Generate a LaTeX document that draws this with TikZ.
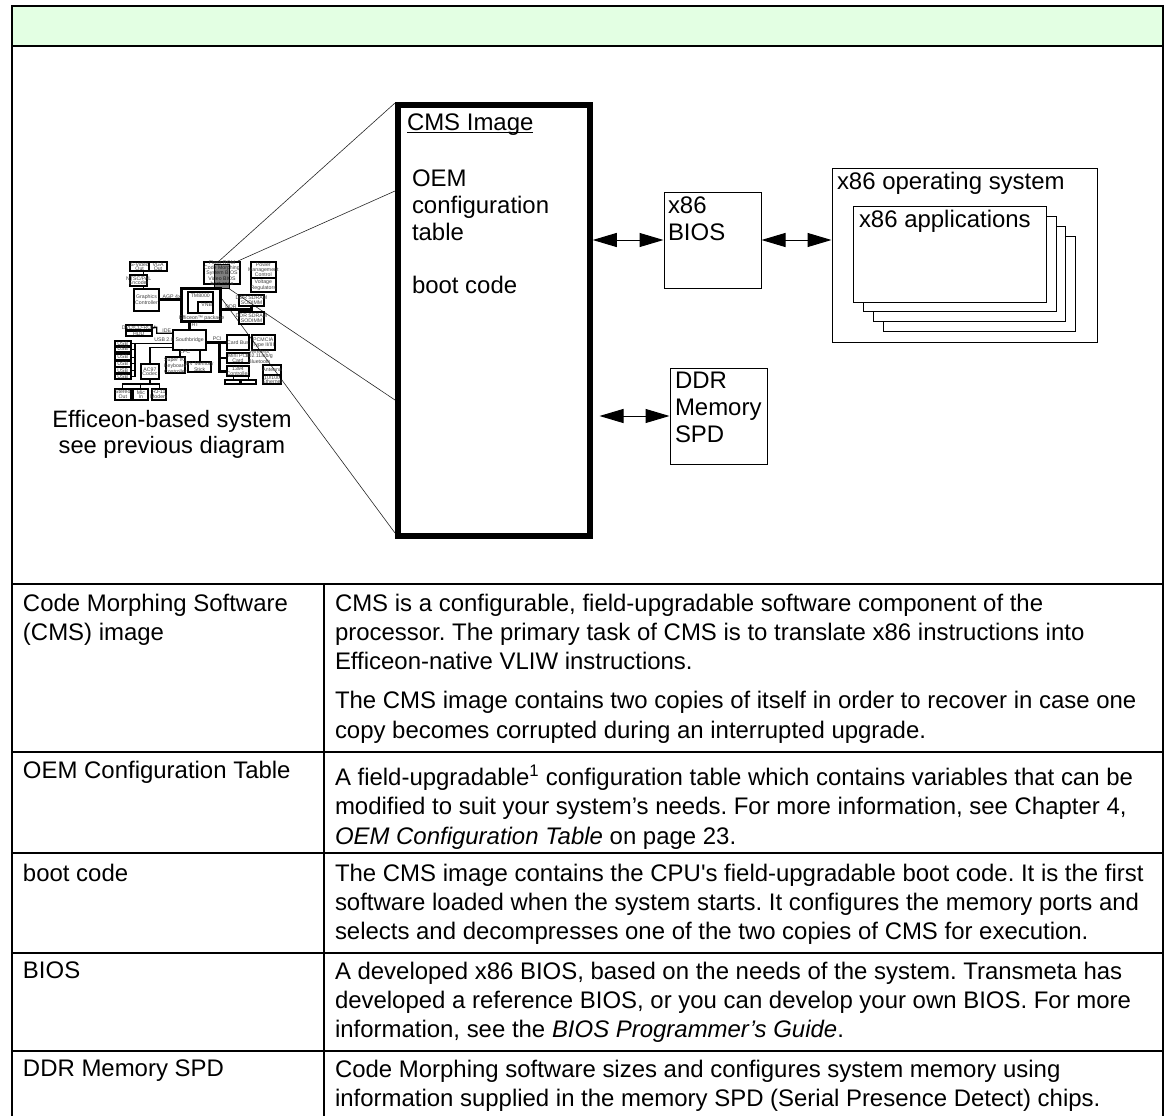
\documentclass[tikz,border=0pt]{standalone}
\usepackage{fontspec}
\setmainfont{Liberation Sans}
\newfontfamily\plainface{Liberation Sans}
\usetikzlibrary{arrows.meta,positioning,fit,calc}
\definecolor{bandGreen}{HTML}{E3FFE3}
\frenchspacing
\tikzset{
  rule/.style      ={black,line width=1.8pt},
  bigbox/.style    ={draw=black,line width=1pt,fill=white,inner sep=0pt},
  cmsbox/.style    ={draw=black,line width=5.5pt,inner sep=0pt},
  txt/.style       ={anchor=north west,inner sep=0pt,outer sep=0pt,align=left,
                     font=\fontsize{23.95}{29.3}\selectfont},
  dlbl/.style      ={txt,font=\fontsize{23.95}{27}\selectfont},
  twoway/.style    ={{Triangle[length=24pt,width=14pt]}-{Triangle[length=24pt,width=14pt]},
                     black,line width=1pt},
  zoomline/.style  ={black!85,line width=0.6pt},
  minibox/.style   ={draw=black,line width=1.7pt,inner sep=0pt},
  minitext/.style  ={inner sep=0pt,align=center,text=black!75,
                     font=\fontsize{5.2}{4.6}\selectfont},
  minibus/.style   ={black,line width=1.3pt},
  minifat/.style   ={black,line width=3pt},
}
\begin{document}
\begin{tikzpicture}[x=1pt,y=-1pt]
\useasboundingbox (0,0) rectangle (1165,1116);

% banner and frame
\node[draw=black,line width=1.8pt,fill=bandGreen,inner sep=0pt,
      minimum width=1151pt,minimum height=40pt] (band) at (587.5,26) {};
\draw[rule] (12,46) -- (12,1116);
\draw[rule] (1163,46) -- (1163,1116);

% table rules
\foreach \y in {584,752,853,953,1051}
  \draw[rule] (12,\y) -- (1163,\y);
\draw[rule] (324,584) -- (324,1116);

% zoom lines
\node[cmsbox,minimum width=192pt,minimum height=431pt] (cms) at (494,320.5) {};
\coordinate (zA) at (218,262);
\coordinate (zB) at (238,261);
\coordinate (zC) at (228,288);
\coordinate (zD) at (222,299);
\draw[zoomline] (zA) -- (395,103);
\draw[zoomline] (zB) -- (395,191);
\draw[zoomline] (zC) -- (395,400);
\draw[zoomline] (zD) -- (395,533);

% CMS labels
\node[dlbl] (cmstitle) at (407,114) {CMS Image};
\draw[black,line width=1pt] ([yshift=3.5pt]cmstitle.south west) -- ([yshift=3.5pt]cmstitle.south east);
\node[dlbl] (cmsoem) at (412,170) {OEM\\configuration\\table};
\node[dlbl] (cmsboot) at (412,276) {boot code};

% x86 side
\node[bigbox,minimum width=97pt,minimum height=96pt] (bios) at (712.5,240) {};
\node[dlbl] (bioslbl) at (668,197) {x86\\BIOS};
\node[bigbox,minimum width=265pt,minimum height=174pt] (os) at (964.5,255) {};
\node[dlbl] (oslbl) at (837,172) {x86 operating system};
\foreach \i/\cx/\cy in {4/979.25/284,3/969.5/274,2/959.75/264,1/950/254.5}
  \node[bigbox,minimum width=192.5pt,minimum height=95.5pt] (app\i) at (\cx,\cy) {};
\node[dlbl] (applbl) at (859,210) {x86 applications};
\node[bigbox,minimum width=97pt,minimum height=96pt] (ddr) at (718.5,416) {};
\node[dlbl] (ddrlbl) at (675,372) {DDR\\Memory\\SPD};
\coordinate (ddrend) at (599.5,416);

\draw[twoway] (bios.west -| cms.east) -- (bios.west);
\draw[twoway] (bios.east) -- (bios.east -| os.west);
\draw[twoway] (ddrend) -- (ddr.west);

% small copy of the system diagram
\begin{scope}[shift={(100,210)},x=0.3333pt,y=-0.3333pt]
\foreach \id/\l/\t/\r/\b/\txt in {
   svid/90/157/148/183/{S-Video\\Out},
   vga/148/157/200/183/{VGA\\Out},
   ntsc/90/195/142/228/{NTSC/PAL\\Encoder},
   gfx/102/237/177/302/{Graphics\\Controller},
   inner/263/245/340/310/{},
   vnb/295/277/340/310/{},
   flash/312/157/420/222/{Flash ROM\\Code Morphing\\System BIOS\\Video BIOS\\boot code},
   power/452/155/528/205/{Power\\Management\\Control},
   volt/452/205/528/245/{Voltage\\Regulators},
   dimA/417/255/492/287/{DDR SDRAM\\SODIMM},
   dimB/417/307/492/342/{DDR SDRAM\\SODIMM},
   dvd/78/345/155/360/{DVD/CD-ROM},
   hdd/78/362/155/378/{HDD},
   south/220/360/318/420/{Southbridge},
   usbA/45/393/92/408/{USB},
   usbB/45/410/92/425/{USB},
   usbC/45/433/92/450/{USB},
   usbD/45/452/92/470/{USB},
   usbE/45/472/92/490/{USB},
   usbF/45/492/92/508/{USB},
   codec/122/462/178/508/{AC97\\Codec},
   stereo/45/537/92/570/{Stereo\\Out},
   mic/100/537/145/570/{Mic\\In},
   modem/155/537/198/570/{RJ-11\\Modem},
   sio/197/442/255/490/{Super I/O\\Keyboard\\Controller},
   stick/265/455/333/487/{NV Memory\\Stick},
   cbus/380/375/448/420/{Card Bus},
   mpci/380/428/448/460/{Mini PCI\\Card},
   fire/380/468/448/498/{1394\\Controller},
   pcmcia/455/375/525/420/{PCMCIA\\Type II/III},
   port1/375/510/420/522/{},
   port2/422/510/467/522/{},
   ant/490/465/543/495/{Antenna},
   lan/490/495/543/522/{10/100\\Ethernet}}
{
  \node[minibox,fit={(\l,\t) (\r,\b)},label={[minitext]center:\txt}] (m\id) {};
}
\node[minibox,line width=3pt,fit={(245,235) (362,335)}] (mcpu) {};
\node[minitext] (mcpulbl) at (305,324) {Efficeon\texttrademark{} package};
\node[minitext] (mtm) at (301,257) {TM8000};
\node[minitext] (mvnb) at (320,285) {VNB};
\node[minitext] (mwifi) at (478,440) {Wireless\\802.11a/b/g\\Bluetooth};

\node[draw=black,line width=0.8pt,fill=black,fill opacity=0.5,inner sep=0pt,
      fit={(343,163) (388,235)}] (hilite) {};

% buses
\draw[minifat] (mgfx.east) -- (mgfx.east -| mcpu.west);
\draw[minifat] (mcpu.east |- 0,300) -- (455,300);
\draw[minifat] (455,300) -- (mdimA.south -| 455,0) -- (mdimB.north -| 455,0);
\draw[minifat] (mcpu.south -| 270,0) -- (msouth.north -| 270,0);
\draw[minifat] (msouth.east |- 0,397) -- (mcbus.west |- 0,397);
\draw[minifat] (358,397) -- (358,485) -- (mfire.west |- 0,485);
\draw[minibus] (358,444) -- (mmpci.west);
\draw[minibus] (mflash.south -| 343,0) -- (mcpu.north -| 343,0);
\draw[minibus] (mntsc.north -| 130,0) -- (msvid.south -| 130,0);
\draw[minibus] (130,228) -- (mgfx.north -| 130,0);
\draw[minibus] (mdvd.east) -- (170,352) -- (170,370) -- (msouth.west |- 0,370);
\draw[minibus] (musbA.east) -- (msouth.west |- musbA.east);
\draw[minibus] (105,400) -- (105,500);
\foreach \n in {usbB,usbC,usbD,usbE,usbF}
  \draw[minibus] (m\n.east) -- (m\n.east -| 105,0);
\draw[minibus] (mcodec.north) -- (150,412) -- (msouth.west |- 0,412);
\draw[minibus] (mcodec.south) -- (150,522);
\draw[minibus] (68,537) -- (68,522) -- (178,522) -- (178,537);
\draw[minibus] (122,522) -- (122,537);
\draw[minibus] (msouth.south -| 240,0) -- (msio.north -| 240,0);
\draw[minibus] (msouth.south -| 300,0) -- (mstick.north -| 300,0);
\draw[minibus] (mfire.south -| 400,0) -- (mport1.north -| 400,0);
\draw[minibus] (mfire.south -| 445,0) -- (mport2.north -| 445,0);

\node[minitext] (lagp) at (215,260) {AGP 4x};
\node[minitext] (lddr) at (393,291) {DDR};
\node[minitext] (lht) at (285,344) {HT};
\node[minitext] (lide) at (200,362) {IDE};
\node[minitext] (lusb) at (192,390) {USB 2.0};
\node[minitext] (lpci) at (352,387) {PCI};
\node[minitext] (llpc) at (255,425) {LPC};
\end{scope}

\node[anchor=base,inner sep=0pt,font=\fontsize{23.7}{26}\selectfont] (sys1) at (172,427) {Efficeon-based system};
\node[anchor=base,inner sep=0pt,font=\fontsize{23.7}{26}\selectfont] (sys2) at (172,453) {see previous diagram};

% table text
\node[txt] (k1) at (23,594) {Code Morphing Software\\(CMS) image};
\node[txt] (v1) at (335,594) {CMS is a configurable, field-upgradable software component of the\\
  processor. The primary task of CMS is to translate x86 instructions into\\
  Efficeon-native VLIW instructions.\\[9.6pt]
  The CMS image contains two copies of itself in order to recover in case one\\
  copy becomes corrupted during an interrupted upgrade.};
\node[txt] (k2) at (23,761) {OEM Configuration Table};
\node[txt] (v2) at (335,765) {A field-upgradable\textsuperscript{1} configuration table which contains variables that can be\\
  modified to suit your system’s needs. For more information, see Chapter 4,\\
  \emph{OEM Configuration Table} on page 23.};
\node[txt] (k3) at (23,864) {boot code};
\node[txt] (v3) at (335,864) {The CMS image contains the CPU{\plainface '}s field-upgradable boot code. It is the first\\
  software loaded when the system starts. It configures the memory ports and\\
  selects and decompresses one of the two copies of CMS for execution.};
\node[txt] (k4) at (23,962) {BIOS};
\node[txt] (v4) at (335,962) {A developed x86 BIOS, based on the needs of the system. Transmeta has\\
  developed a reference BIOS, or you can develop your own BIOS. For more\\
  information, see the \emph{BIOS Programmer’s Guide}.};
\node[txt] (k5) at (23,1060) {DDR Memory SPD};
\node[txt] (v5) at (335,1060) {Code Morphing software sizes and configures system memory using\\
  information supplied in the memory SPD (Serial Presence Detect) chips.};
\end{tikzpicture}
\end{document}
